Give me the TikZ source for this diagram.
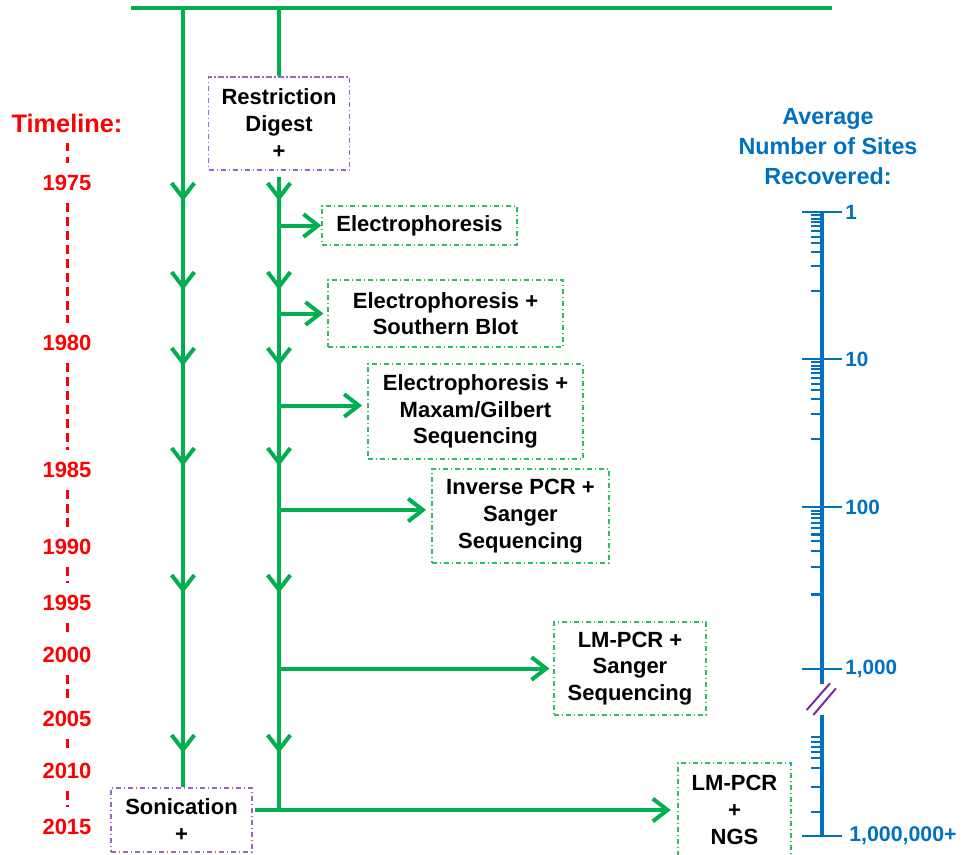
\documentclass[tikz,border=0pt]{standalone}
\usepackage{fontspec}
\setmainfont{Liberation Sans}
\usetikzlibrary{arrows.meta}
\definecolor{flowgreen}{HTML}{00B050}
\definecolor{boxgreen}{HTML}{2DBE64}
\definecolor{boxpurple}{HTML}{9966CC}
\definecolor{scaleblue}{HTML}{0070C0}
\definecolor{breakpurple}{HTML}{7030A0}
\begin{document}
\begin{tikzpicture}[x=0.75pt, y=-0.75pt,
    flow/.style={draw=flowgreen, line width=3pt},
    barb/.style={flow, -{Straight Barb[length=11pt, width=17pt]}},
    methodbox/.style={draw=boxgreen, line width=0.9pt, dash pattern=on 4pt off 2pt on 1pt off 2pt,
      align=center, inner sep=0pt, font=\fontsize{16.5}{20}\selectfont\bfseries},
    cutbox/.style={methodbox, draw=boxpurple},
    yearlbl/.style={text=red, font=\fontsize{16.5}{20}\selectfont\bfseries, inner xsep=0pt, inner ysep=9pt},
    timedash/.style={draw=red, line width=2.25pt, dash pattern=on 6.5pt off 4pt},
    axis/.style={draw=scaleblue, line width=2.6pt},
    tick/.style={draw=scaleblue, line width=1.9pt},
    scalelbl/.style={text=scaleblue, font=\fontsize{15.5}{18}\selectfont\bfseries, anchor=west, inner sep=0pt}]
  \clip (0,0) rectangle (962,854);

  % Top bar and the two trunks
  \coordinate (barL) at (131,8);
  \coordinate (barR) at (832,8);
  \coordinate (ltop) at (183,8);
  \coordinate (rtop) at (279,8);
  \draw[flow] (barL) -- (barR);

  % Fragmentation boxes
  \node[cutbox, minimum width=105.75pt, minimum height=69.75pt] (digest) at (279,123.5) {Restriction\\Digest\\+};
  \node[cutbox, minimum width=105.75pt, minimum height=48pt] (sonic) at (181.5,820) {Sonication\\+};

  % Method boxes
  \node[methodbox, minimum width=146.25pt, minimum height=29.25pt] (elec) at (419.5,225.5) {Electrophoresis};
  \node[methodbox, minimum width=176.25pt, minimum height=50.25pt] (blot) at (445.5,313.5) {Electrophoresis +\\Southern Blot};
  \node[methodbox, minimum width=161.25pt, minimum height=71.25pt] (maxam) at (475.5,411.5) {Electrophoresis +\\Maxam/Gilbert\\Sequencing};
  \node[methodbox, minimum width=132.75pt, minimum height=70.5pt] (inverse) at (520.5,516) {Inverse PCR +\\Sanger\\Sequencing};
  \node[methodbox, minimum width=114pt, minimum height=69.75pt] (lmsanger) at (630,668.5) {LM-PCR +\\Sanger\\Sequencing};
  \node[methodbox, minimum width=84.75pt, minimum height=70.5pt] (ngs) at (734.5,810) {LM-PCR\\+\\NGS};

  % Trunks
  \draw[flow] (ltop) -- (ltop |- sonic.north);
  \draw[flow] (rtop) -- (rtop |- digest.north);
  \coordinate (rbot) at (rtop |- ngs.west);
  \draw[flow] ([yshift=-5pt]digest.south) -- (rbot);
  \foreach \y in {201,290,366,466,593,753} {
    \draw[barb] (183,\y-16) -- (183,\y);
    \draw[barb] (279,\y-16) -- (279,\y);
  }

  % Branches
  \coordinate (maxamin) at ([yshift=4.5pt]maxam.west);
  \coordinate (inversein) at ([yshift=4.5pt]inverse.west);
  \draw[barb] (rtop |- elec.west) -- (elec.west);
  \draw[barb, shorten >=3pt] (rtop |- blot.west) -- (blot.west);
  \draw[barb, shorten >=4pt] (rtop |- maxamin) -- (maxamin);
  \draw[barb, shorten >=4pt] (rtop |- inversein) -- (inversein);
  \draw[barb, shorten >=3pt] (rtop |- lmsanger.west) -- (lmsanger.west);
  \draw[barb, shorten <=2pt, shorten >=5pt] (sonic.east |- ngs.west) -- (ngs.west);

  % Timeline
  \node[yearlbl, font=\fontsize{19}{22}\selectfont\bfseries, inner ysep=7.5pt] (tl) at (67,123) {Timeline:};
  \foreach \yr/\y in {1975/183, 1980/343, 1985/470, 1990/547, 1995/603, 2000/655, 2005/719, 2010/771, 2015/827}
    \node[yearlbl] (y\yr) at (67,\y) {\yr};
  \foreach \a/\b in {tl/y1975, y1975/y1980, y1980/y1985, y1985/y1990, y1990/y1995,
      y1995/y2000, y2000/y2005, y2005/y2010, y2010/y2015}
    \draw[timedash] (\a) -- (\b);

  % Scale of sites recovered
  \node[text=scaleblue, align=center, font=\fontsize{17.5}{22.5}\selectfont\bfseries] (hdr) at (828,147) {Average\\Number of Sites\\Recovered:};
  \coordinate (s1) at (822,212);
  \coordinate (s10) at (822,359);
  \coordinate (s100) at (822,507);
  \coordinate (s1000) at (822,669);
  \coordinate (smax) at (822,836);
  \coordinate (brkT) at (822,684);
  \coordinate (brkB) at (822,715);
  \draw[axis] (s1) -- (brkT);
  \draw[axis] (brkB) -- (smax);
  \foreach \c in {s1,s10,s100,s1000,smax}
    \draw[tick] ([xshift=-15pt]\c) -- ([xshift=15pt]\c);
  \foreach \a/\b in {212/147, 359/148, 507/162}
    \foreach \f in {0.023,0.045,0.068,0.097,0.129,0.17,0.21,0.27,0.37,0.54}
      \draw[tick, line width=1.6pt] (811,\a+\f*\b) -- (822,\a+\f*\b);
  \foreach \y in {736.7,741.7,746.7,751.7,758.3,768.3,786.7,811.7}
    \draw[tick, line width=1.6pt] (811,\y) -- (822,\y);
  \node[scalelbl] (n1) at (845,212) {1};
  \node[scalelbl] (n10) at (845,359) {10};
  \node[scalelbl] (n100) at (845,507) {100};
  \node[scalelbl] (n1000) at (845,669) {1,000};
  \node[scalelbl, font=\fontsize{16}{18}\selectfont\bfseries] (nmax) at (849,836) {1,000,000+};

  % Axis break
  \draw[breakpurple, line width=1.5pt] (806.7,710) -- (830,683.3);
  \draw[breakpurple, line width=1.5pt] (813.3,715) -- (836,688.3);
\end{tikzpicture}
\end{document}
